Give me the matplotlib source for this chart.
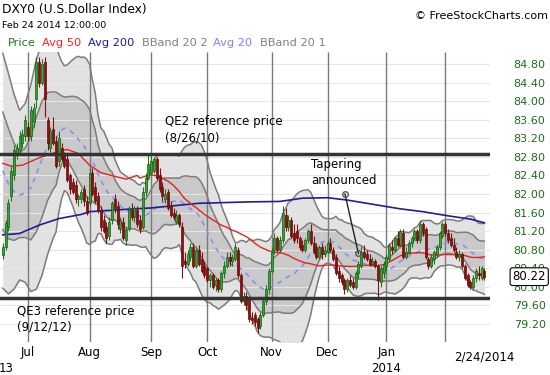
import numpy as np
import pandas as pd
import matplotlib
matplotlib.use("Agg")
import matplotlib.pyplot as plt

# jours de bourse du graphique (jours feries retires)
holidays = ["2013-07-04", "2013-09-02", "2013-11-28", "2013-12-25",
            "2014-01-01", "2014-01-20", "2014-02-17"]
dates = pd.bdate_range("2013-06-18", "2014-02-24")
dates = dates[~dates.isin(pd.to_datetime(holidays))]

opens = [80.68, 80.86, 81.30, 81.95, 82.40, 82.85, 82.95, 83.10, 83.25, 83.45,
         83.25, 83.55, 84.05, 84.85, 84.40, 84.85, 83.60, 83.00, 83.40, 83.15,
         82.70, 83.00, 82.85, 82.75, 82.40, 82.25, 82.20, 81.90, 81.90, 82.10,
         81.85, 81.80, 82.45, 82.15, 81.95, 81.65, 81.45, 81.30, 81.10, 81.45,
         81.90, 81.75, 81.25, 81.40, 81.00, 81.25, 81.65, 81.50, 81.65, 81.45,
         81.30, 82.05, 82.35, 82.45, 82.50, 82.75, 82.40, 82.15, 81.90, 82.05,
         81.75, 81.60, 81.40, 81.55, 81.30, 80.55, 80.50, 80.65, 80.85, 80.45,
         80.80, 80.60, 80.45, 80.40, 80.15, 80.25, 80.05, 80.15, 79.95, 80.30,
         80.45, 80.65, 80.55, 80.60, 80.80, 80.25, 79.70, 79.80, 79.75, 79.32,
         79.40, 79.30, 79.15, 79.40, 79.70, 79.95, 80.35, 80.80, 81.05, 80.80,
         81.00, 81.55, 81.30, 81.45, 81.15, 81.20, 81.05, 80.90, 80.80, 81.00,
         81.20, 80.95, 80.85, 80.65, 80.85, 80.70, 80.75, 80.95, 80.80, 80.65,
         80.35, 80.25, 80.15, 79.95, 80.15, 80.10, 80.00, 80.30, 80.45, 80.75,
         80.70, 80.60, 80.50, 80.55, 80.45, 80.10, 80.30, 80.45, 80.60, 80.85,
         80.80, 81.05, 80.90, 81.15, 80.65, 80.75, 80.95, 81.05, 81.20, 81.00,
         81.35, 81.25, 80.60, 80.45, 80.60, 80.70, 80.85, 81.10, 81.35, 81.15,
         81.05, 80.90, 80.75, 80.65, 80.70, 80.45, 80.25, 80.10, 80.00, 80.20,
         80.30, 80.20, 80.35]
highs = [80.95, 81.45, 81.90, 82.60, 83.05, 83.10, 83.35, 83.40, 83.70, 83.55,
         83.90, 83.95, 84.95, 84.95, 84.90, 84.95, 83.65, 83.45, 83.65, 83.25,
         83.35, 83.10, 82.90, 82.85, 82.45, 82.35, 82.30, 82.00, 82.10, 82.20,
         81.95, 82.55, 82.55, 82.25, 82.05, 81.75, 81.55, 81.40, 81.50, 81.85,
         82.00, 81.85, 81.50, 81.50, 81.30, 81.75, 81.80, 81.75, 81.75, 81.55,
         82.15, 82.45, 82.85, 82.85, 82.80, 82.80, 82.55, 82.25, 82.10, 82.10,
         81.85, 81.70, 81.65, 81.60, 81.40, 80.75, 80.80, 80.95, 80.95, 80.85,
         80.90, 80.75, 80.55, 80.45, 80.30, 80.30, 80.20, 80.20, 80.35, 80.55,
         80.75, 80.75, 80.70, 80.95, 80.85, 80.30, 79.90, 79.90, 79.80, 79.45,
         79.45, 79.35, 79.45, 79.75, 80.05, 80.40, 80.85, 81.15, 81.10, 81.10,
         81.75, 81.70, 81.55, 81.50, 81.35, 81.35, 81.10, 81.00, 81.05, 81.25,
         81.35, 81.10, 80.95, 80.90, 80.95, 80.90, 81.00, 81.05, 80.85, 80.70,
         80.45, 80.30, 80.20, 80.20, 80.25, 80.20, 80.35, 80.55, 80.85, 80.90,
         80.80, 80.70, 80.65, 80.60, 80.50, 80.45, 80.55, 80.70, 80.95, 81.00,
         81.10, 81.20, 81.25, 81.25, 80.85, 81.00, 81.10, 81.25, 81.25, 81.44,
         81.40, 81.30, 80.65, 80.70, 80.80, 80.90, 81.20, 81.40, 81.40, 81.25,
         81.15, 81.05, 80.85, 80.80, 80.75, 80.50, 80.30, 80.15, 80.25, 80.40,
         80.45, 80.45, 80.40]
lows = [80.60, 80.80, 81.20, 81.85, 82.30, 82.75, 82.85, 83.00, 83.15, 83.15,
        83.15, 83.45, 83.85, 84.30, 84.35, 83.65, 82.95, 82.90, 83.05, 82.55,
        82.60, 82.70, 82.55, 82.25, 82.00, 82.00, 81.80, 81.75, 81.80, 81.75,
        81.55, 81.75, 81.95, 81.80, 81.60, 81.20, 81.15, 80.95, 81.00, 81.35,
        81.60, 81.25, 81.15, 81.00, 80.90, 81.20, 81.45, 81.40, 81.30, 81.15,
        81.25, 81.95, 82.30, 82.40, 82.45, 82.30, 82.05, 81.85, 81.80, 81.65,
        81.50, 81.45, 81.35, 81.30, 80.20, 80.40, 80.45, 80.55, 80.40, 80.40,
        80.45, 80.30, 80.20, 80.10, 80.00, 79.95, 79.92, 79.88, 79.90, 80.20,
        80.40, 80.45, 80.45, 80.55, 80.20, 79.65, 79.60, 79.50, 79.25, 79.20,
        79.15, 79.00, 79.10, 79.35, 79.60, 79.85, 80.30, 80.70, 80.75, 80.75,
        80.95, 81.20, 81.20, 81.05, 80.95, 80.95, 80.80, 80.75, 80.75, 80.95,
        80.90, 80.70, 80.60, 80.60, 80.60, 80.65, 80.70, 80.75, 80.55, 80.25,
        80.10, 80.05, 79.85, 79.90, 80.00, 79.95, 79.95, 80.20, 80.40, 80.60,
        80.55, 80.45, 80.45, 80.40, 79.72, 80.00, 80.20, 80.35, 80.55, 80.70,
        80.75, 80.85, 80.85, 80.60, 80.60, 80.70, 80.85, 81.00, 80.95, 80.95,
        81.10, 80.60, 80.38, 80.40, 80.50, 80.65, 80.80, 81.05, 81.10, 80.95,
        80.85, 80.75, 80.60, 80.55, 80.40, 80.15, 80.00, 79.95, 79.95, 80.10,
        80.15, 80.15, 80.15]
closes = [80.85, 81.38, 81.80, 82.50, 82.95, 83.00, 83.25, 83.30, 83.60, 83.25,
          83.80, 83.85, 84.85, 84.40, 84.80, 84.05, 83.10, 83.35, 83.10, 82.60,
          83.20, 82.75, 82.60, 82.30, 82.10, 82.05, 81.90, 81.95, 82.05, 81.85,
          81.60, 82.45, 82.00, 81.85, 81.65, 81.30, 81.20, 81.05, 81.40, 81.80,
          81.70, 81.35, 81.45, 81.05, 81.25, 81.65, 81.50, 81.70, 81.35, 81.25,
          82.05, 82.35, 82.65, 82.70, 82.75, 82.35, 82.10, 81.95, 82.00, 81.70,
          81.55, 81.50, 81.55, 81.35, 80.45, 80.50, 80.70, 80.85, 80.45, 80.80,
          80.50, 80.35, 80.25, 80.15, 80.25, 80.00, 80.15, 79.95, 80.30, 80.45,
          80.65, 80.55, 80.65, 80.85, 80.25, 79.70, 79.80, 79.60, 79.30, 79.28,
          79.25, 79.12, 79.40, 79.70, 79.95, 80.35, 80.75, 81.05, 80.80, 81.00,
          81.60, 81.30, 81.45, 81.10, 81.00, 81.05, 80.85, 80.80, 81.00, 81.20,
          80.95, 80.75, 80.65, 80.85, 80.70, 80.80, 80.95, 80.80, 80.60, 80.30,
          80.20, 80.10, 79.95, 80.15, 80.05, 80.00, 80.30, 80.50, 80.75, 80.65,
          80.60, 80.50, 80.55, 80.45, 80.15, 80.40, 80.50, 80.65, 80.90, 80.80,
          81.05, 80.90, 81.20, 80.65, 80.75, 80.95, 81.05, 81.20, 81.00, 81.35,
          81.15, 80.65, 80.45, 80.65, 80.75, 80.85, 81.15, 81.35, 81.15, 81.00,
          80.90, 80.80, 80.65, 80.70, 80.45, 80.20, 80.05, 80.00, 80.20, 80.35,
          80.25, 80.40, 80.22]

bb_early_idx = [0, 2, 4, 6, 8, 10, 12, 14, 16, 18]
bb_early_upper = [85.03, 84.60, 84.15, 83.80, 83.95, 84.35, 84.90, 85.25, 85.35, 85.25]
bb_early_lower = [79.97, 79.85, 79.95, 80.15, 80.10, 79.90, 79.95, 80.25, 80.70, 81.05]

a50_early_idx = [0, 3, 7, 13, 20, 23, 27, 31, 35, 40, 44, 48]
a50_early_val = [82.66, 82.60, 82.62, 82.78, 82.92, 82.96, 82.87, 82.62, 82.46, 82.38, 82.32, 82.40]

# moyenne 200
a200_idx = [0, 6, 13, 20, 28, 31, 44, 53, 70, 88, 99, 107, 116, 123, 131, 142, 150, 159, 167, 172]
a200_val = [81.12, 81.15, 81.33, 81.47, 81.56, 81.62, 81.67, 81.70, 81.80, 81.83,
            81.84, 81.91, 81.92, 81.87, 81.79, 81.68, 81.62, 81.53, 81.46, 81.38]

qe2_level = 82.87
qe3_level = 79.75
last_price = 80.22
y_ticks = [79.20, 79.60, 80.00, 80.40, 80.80, 81.20, 81.60, 82.00, 82.40,
           82.80, 83.20, 83.60, 84.00, 84.40, 84.80]

n = len(closes)
dates = dates[:n]
x = np.arange(n)
o = np.array(opens); h = np.array(highs); l = np.array(lows); c = np.array(closes)

s = pd.Series(closes)
mid = s.rolling(20).mean().values
sd = s.rolling(20).std(ddof=0).values
bx = np.concatenate([bb_early_idx, x[19:]])
bu2 = np.concatenate([bb_early_upper, (mid + 2 * sd)[19:]])
bl2 = np.concatenate([bb_early_lower, (mid - 2 * sd)[19:]])
bmid = (bu2 + bl2) / 2
half = (bu2 - bl2) / 4
bu1 = bmid + half
bl1 = bmid - half

a50 = s.rolling(50).mean().values
a50x = np.concatenate([a50_early_idx, x[49:]])
a50y = np.concatenate([a50_early_val, a50[49:]])

# premiers jours de chaque mois
month_first = []
for i in range(1, n):
    if dates[i].month != dates[i - 1].month:
        month_first.append(i)

fig = plt.figure(figsize=(5.5, 3.75), dpi=100)
ax = fig.add_axes([0, 33 / 375, 490 / 550, 290 / 375])
ax.set_xlim(-1, 174)
ax.set_ylim(78.813, 85.058)

ax.fill_between(bx, bl2, bu2, color='#e2e2e2', lw=0, zorder=0)
ax.fill_between(bx, bl1, bu1, color='#c9c9c9', lw=0, zorder=0.5)
ax.hlines(y_ticks, -1, 174, color='#e6e6e6', lw=0.8, zorder=1)
ax.vlines(month_first, 78.813, 85.058, color='#7a7a7a', lw=1.0, zorder=1)

for yy in [bu2, bl2, bu1, bl1]:
    ax.plot(bx, yy, color='#7c7c7c', lw=1.1, zorder=2)
ax.plot(bx, bmid, color='#8c8cf2', lw=1.2, ls=(0, (3, 3)), zorder=2)
ax.plot(a200_idx, a200_val, color='#1f1f8f', lw=1.2, zorder=3)
ax.plot(a50x, a50y, color='#e52222', lw=1.0, zorder=3)

# bougies
up = c >= o
col = np.where(up, '#167a16', '#861010')
ax.vlines(x, l, h, color=col, lw=0.8, zorder=4)
body = np.maximum(np.abs(c - o), 0.02)
ax.bar(x[up], body[up], bottom=np.minimum(o, c)[up], width=0.7,
       color='#3f9c3f', edgecolor='#0c620c', lw=0.5, zorder=5)
ax.bar(x[~up], body[~up], bottom=np.minimum(o, c)[~up], width=0.7,
       color='#861010', edgecolor='#6a0a0a', lw=0.5, zorder=5)

ax.axhline(qe2_level, color='#333333', lw=2.5, zorder=6)
ax.axhline(qe3_level, color='#333333', lw=2.5, zorder=6)

ax.text(58, 83.70, "QE2 reference price\n(8/26/10)", fontsize=8.5,
        va='top', ha='left', linespacing=1.3, zorder=7)
ax.text(5, 79.61, "QE3 reference price\n(9/12/12)", fontsize=8.5,
        va='top', ha='left', linespacing=1.3, zorder=7)
ax.text(110, 82.77, "Tapering\nannounced", fontsize=8.5,
        va='top', ha='left', linespacing=1.3, zorder=7)
ax.plot([122.2, 127.0], [82.00, 80.72], color='#222222', lw=1.0, zorder=7)
ax.plot([122.2, 127.0], [82.00, 80.72], 'o', ms=4, mfc='none', mec='#555555', zorder=7)

# axe des prix a droite
ax.yaxis.tick_right()
ax.set_yticks(y_ticks)
ax.set_yticklabels(["%.2f" % v for v in y_ticks], color='#1d6b1d', fontsize=8)
ax.tick_params(axis='y', length=0, pad=17)
ax.set_xticks([])
for sp in ax.spines.values():
    sp.set_visible(False)

ax.text(188, last_price, "%.2f" % last_price, fontsize=8.5, ha='center', va='center',
        zorder=8, clip_on=False,
        bbox=dict(boxstyle='round,pad=0.2', fc='white', ec='black', lw=0.8))

# etiquettes des mois
trans = ax.get_xaxis_transform()
month_names = ["Jul", "Aug", "Sep", "Oct", "Nov", "Dec", "Jan", "Feb"]
for i, name in zip(month_first, month_names):
    if name == "Feb":
        continue
    ax.text(i, -0.035, name, fontsize=8.5, ha='center', va='center', transform=trans)
ax.text(month_first[6], -0.09, "2014", fontsize=8.5, ha='center', va='center', transform=trans)
ax.text(1.2, -0.09, "13", fontsize=8.5, ha='center', va='center', transform=trans)
ax.text(n - 1, -0.05, "2/24/2014", fontsize=8.5, ha='center', va='center', transform=trans)

# en-tete
fig.text(2 / 550, 1 - 9 / 375, "DXY0 (U.S.Dollar Index)", fontsize=8.8, va='center')
fig.text(2 / 550, 1 - 25 / 375, "Feb 24 2014 12:00:00", fontsize=6.8, va='center')
fig.text(548 / 550, 1 - 16 / 375, "\u00a9 FreeStockCharts.com", fontsize=8,
         va='center', ha='right')
legend_items = [("Price", 8, '#1a7a1a'), ("Avg 50", 42, '#ff2020'),
                ("Avg 200", 88, '#1c1c9c'), ("BBand 20 2", 142, '#808080'),
                ("Avg 20", 213, '#8080ff'), ("BBand 20 1", 260, '#808080')]
for label, px, color in legend_items:
    fig.text(px / 550, 1 - 43 / 375, label, fontsize=8.2, color=color, va='center')

fig.savefig("out.png", dpi=100, facecolor='white')
